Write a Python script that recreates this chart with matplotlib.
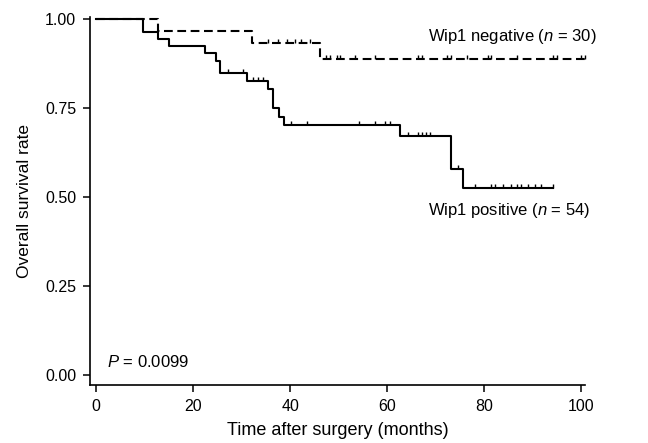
import matplotlib

matplotlib.use("Agg")
import matplotlib.pyplot as plt

plt.rcParams["font.family"] = ["Liberation Sans", "DejaVu Sans"]
plt.rcParams["mathtext.fontset"] = "custom"
plt.rcParams["mathtext.rm"] = "Liberation Sans"
plt.rcParams["mathtext.it"] = "Liberation Sans:italic"

# Wip1 negative (n = 30): step times / survival after each step, end of follow-up
neg_times = [0, 12.7, 32.2, 46.1]
neg_surv = [1.0, 0.967, 0.932, 0.889]
neg_end = 101.4
neg_censor = [35.5, 37.5, 39.3, 41.0, 42.2, 44.1, 47.4, 48.3, 49.6, 50.2,
              53.3, 57.5, 66.4, 67.2, 72.3, 73.1, 76.4, 80.8, 81.5, 86.7,
              94.2, 95.0, 100.0, 100.8]

# Wip1 positive (n = 54)
pos_times = [0, 9.6, 12.7, 15.0, 22.4, 24.7, 25.6, 31.0, 35.5, 36.5, 37.7,
             38.8, 62.6, 73.1, 75.7]
pos_surv = [1.0, 0.963, 0.944, 0.924, 0.906, 0.883, 0.849, 0.826, 0.805,
            0.749, 0.724, 0.702, 0.671, 0.580, 0.526]
pos_end = 94.2
pos_censor = [27.1, 30.3, 32.4, 33.4, 34.4, 40.1, 43.5, 54.2, 57.5, 59.5,
              60.5, 64.3, 66.4, 67.1, 68.0, 68.8, 74.6, 78.1, 81.4, 82.2,
              83.9, 85.6, 86.7, 87.7, 89.1, 90.5, 91.8, 94.2]

x_ticks = [0, 20, 40, 60, 80, 100]
y_ticks = [0.0, 0.25, 0.50, 0.75, 1.00]


def level_at(times, surv, t):
    s = surv[0]
    for ti, si in zip(times, surv):
        if ti <= t:
            s = si
    return s


def draw_curve(ax, times, surv, end, censor, ls):
    xs = list(times) + [end]
    ys = list(surv) + [surv[-1]]
    ax.step(xs, ys, where="post", color="black", lw=1.5, ls=ls,
            clip_on=False, zorder=3)
    cy = [level_at(times, surv, t) for t in censor]
    ax.plot(censor, cy, ls="none", marker=[(0, 0), (0, 1)], ms=6,
            mew=1.0, mec="black", clip_on=False, zorder=3)


fig = plt.figure(figsize=(6.48, 4.43), dpi=100)
ax = fig.add_axes((90 / 648, 1 - 385 / 443, 495 / 648, 368 / 443))

draw_curve(ax, neg_times, neg_surv, neg_end, neg_censor, (0, (4.2, 2.2)))
draw_curve(ax, pos_times, pos_surv, pos_end, pos_censor, "-")

ax.set_xlim(-1.3, 100.8)
ax.set_ylim(-0.028, 1.006)
ax.set_xticks(x_ticks, [str(v) for v in x_ticks])
ax.set_yticks(y_ticks, [f"{v:.2f}" for v in y_ticks])
ax.tick_params(direction="out", length=5, width=1.1, labelsize=11.5, pad=5,
               colors="black")

for side in ["top", "right"]:
    ax.spines[side].set_visible(False)
for side in ["left", "bottom"]:
    ax.spines[side].set_linewidth(1.2)

ax.set_xlabel("Time after surgery (months)", fontsize=13, labelpad=6)
ax.set_ylabel("Overall survival rate", fontsize=12.5, labelpad=9)

ax.text(597 / 648, 1 - 37 / 443, "Wip1 negative ($n$ = 30)",
        transform=fig.transFigure, ha="right", va="center", fontsize=12)
ax.text(590 / 648, 1 - 211 / 443, "Wip1 positive ($n$ = 54)",
        transform=fig.transFigure, ha="right", va="center", fontsize=12)
ax.text(107 / 648, 1 - 362 / 443, "$P$ = 0.0099",
        transform=fig.transFigure, ha="left", va="center", fontsize=12)

plt.savefig("out.png", dpi=100)
plt.close()
